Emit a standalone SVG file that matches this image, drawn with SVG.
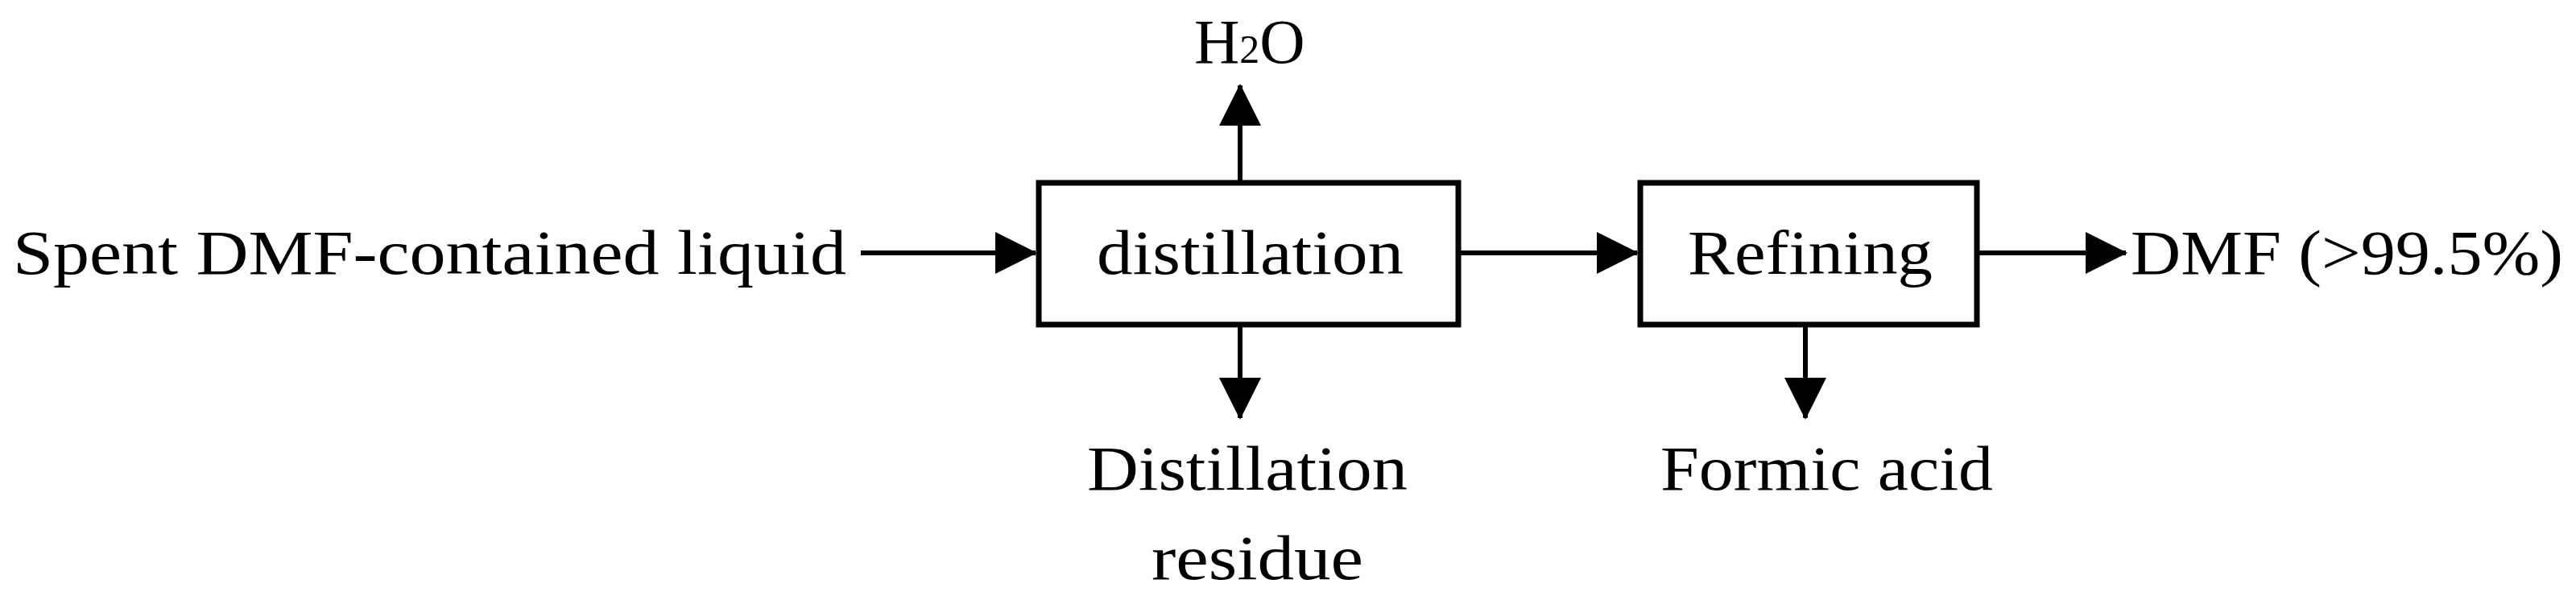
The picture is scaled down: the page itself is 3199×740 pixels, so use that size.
<svg xmlns="http://www.w3.org/2000/svg" width="3199" height="740" viewBox="0 0 3199 740">
<style>
text{font-family:"Liberation Serif","Times New Roman",serif;font-size:78px;fill:#000}
.box{fill:#fff;stroke:#000;stroke-width:7}
.c{stroke:#000;stroke-width:6;fill:none;marker-end:url(#ah)}
</style>
<defs><marker id="ah" markerUnits="userSpaceOnUse" markerWidth="52" markerHeight="52" refX="50" refY="26" orient="auto" viewBox="0 0 52 52"><path d="M0,0 L52,26 L0,52 Z" fill="#000"/></marker></defs>
<rect width="3199" height="740" fill="#fff"/>
<g id="connectors">
<line class="c" x1="1069" y1="314" x2="1286" y2="314"/>
<line class="c" x1="1811" y1="314" x2="2033" y2="314"/>
<line class="c" x1="2455" y1="314" x2="2640" y2="314"/>
<line class="c" x1="1540" y1="224" x2="1540" y2="106"/>
<line class="c" x1="1540" y1="403" x2="1540" y2="519"/>
<line class="c" x1="2242" y1="403" x2="2242" y2="519"/>
</g>
<g id="feed"><text x="16" y="340" textLength="1035" lengthAdjust="spacingAndGlyphs">Spent DMF-contained liquid</text></g>
<g id="distillation"><rect class="box" x="1290" y="227" width="521" height="176"/><text x="1362" y="340" textLength="381" lengthAdjust="spacingAndGlyphs">distillation</text></g>
<g id="refining"><rect class="box" x="2037" y="227" width="418" height="176"/><text x="2096" y="340" textLength="304" lengthAdjust="spacingAndGlyphs">Refining</text></g>
<g id="h2o"><text x="1483" y="78">H<tspan font-size="50">2</tspan>O</text></g>
<g id="residue"><text x="1350" y="608" textLength="398" lengthAdjust="spacingAndGlyphs">Distillation</text><text x="1430" y="719" textLength="263" lengthAdjust="spacingAndGlyphs">residue</text></g>
<g id="formic"><text x="2062" y="608" textLength="413" lengthAdjust="spacingAndGlyphs">Formic acid</text></g>
<g id="dmf"><text x="2646" y="340" textLength="537" lengthAdjust="spacingAndGlyphs">DMF (&gt;99.5%)</text></g>
</svg>
